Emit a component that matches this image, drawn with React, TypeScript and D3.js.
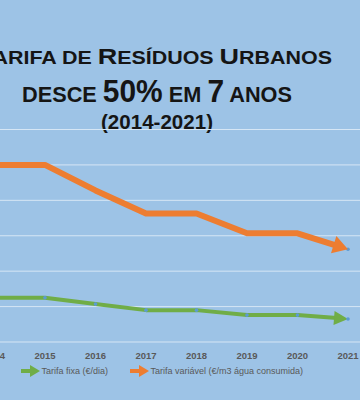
import React from 'react'
import * as d3 from 'd3'

const WIDTH = 360
const HEIGHT = 400

const years = ['2014', '2015', '2016', '2017', '2018', '2019', '2020', '2021']
const tarifaFixa = [0.125, 0.125, 0.107, 0.09, 0.09, 0.076, 0.076, 0.065]
const tarifaVariavel = [0.5, 0.5, 0.428, 0.363, 0.363, 0.307, 0.307, 0.262]
const gridTicks = [0, 0.1, 0.2, 0.3, 0.4, 0.5, 0.6]
const legendLabels = ['Tarifa fixa (€/dia)', 'Tarifa variável (€/m3 água consumida)']

const BG = '#9DC3E6'
const GREEN = '#70AD47'
const ORANGE = '#ED7D31'
const DOT = '#5B9BD5'
const TEXT_GREY = '#595959'

const xScale = d3.scalePoint<string>().domain(years).range([-5.5, 348])
const yScale = d3.scaleLinear().domain([0, 0.6]).range([342, 129.5])

// line with arrowhead at the last point
const arrowSeries = (values: number[], arrowLen: number, arrowHalf: number) => {
  const pts: [number, number][] = values.map((v, i) => [xScale(years[i])!, yScale(v)])
  const [x1, y1] = pts[pts.length - 2]
  const [x2, y2] = pts[pts.length - 1]
  const len = Math.hypot(x2 - x1, y2 - y1)
  const ux = (x2 - x1) / len
  const uy = (y2 - y1) / len
  const bx = x2 - ux * arrowLen
  const by = y2 - uy * arrowLen
  const linePts = pts.slice(0, -1).concat([[x2 - ux * arrowLen * 0.8, y2 - uy * arrowLen * 0.8]])
  const head = [
    [x2, y2],
    [bx - uy * arrowHalf, by + ux * arrowHalf],
    [bx + uy * arrowHalf, by - ux * arrowHalf],
  ]
  return { pts, path: d3.line()(linePts) || '', head: head.map((p) => p.join(',')).join(' ') }
}

const LegendArrow = ({ x, y, color }: { x: number; y: number; color: string }) => (
  <g>
    <line x1={x} y1={y} x2={x + 10} y2={y} stroke={color} strokeWidth={4} />
    <polygon points={`${x + 19},${y} ${x + 9},${y - 6} ${x + 9},${y + 6}`} fill={color} />
  </g>
)

export default function App() {
  const green = arrowSeries(tarifaFixa, 14, 7)
  const orange = arrowSeries(tarifaVariavel, 15, 9)

  const font = "'Liberation Sans', Arial, sans-serif"

  return (
    <svg
      width={WIDTH}
      height={HEIGHT}
      style={{ position: 'absolute', left: 0, top: 0, background: BG }}
    >
      <rect width={WIDTH} height={HEIGHT} fill={BG} />

      {/* title, small caps built by hand */}
      <g fontFamily={font} fontWeight="bold" fill="#151515">
        <text x={332} y={63.5} textAnchor="end" textLength={356} lengthAdjust="spacingAndGlyphs">
          <tspan fontSize={22.3}>T</tspan>
          <tspan fontSize={17.7}>ARIFA DE </tspan>
          <tspan fontSize={22.3}>R</tspan>
          <tspan fontSize={17.7}>ESÍDUOS </tspan>
          <tspan fontSize={22.3}>U</tspan>
          <tspan fontSize={17.7}>RBANOS</tspan>
        </text>
        <text x={22} y={102} textLength={270} lengthAdjust="spacingAndGlyphs">
          <tspan fontSize={22.5}>DESCE </tspan>
          <tspan fontSize={31}>50%</tspan>
          <tspan fontSize={22.5}> EM </tspan>
          <tspan fontSize={31}>7</tspan>
          <tspan fontSize={22.5}> ANOS</tspan>
        </text>
        <text x={101} y={129} fontSize={19.5} textLength={112} lengthAdjust="spacingAndGlyphs">
          (2014-2021)
        </text>
      </g>

      {/* grid */}
      {gridTicks.map((t) => (
        <line
          key={t}
          x1={0}
          x2={WIDTH}
          y1={yScale(t)}
          y2={yScale(t)}
          stroke="#D6E6F5"
          strokeWidth={1}
        />
      ))}

      {/* x axis labels */}
      {years.map((yr) => (
        <text
          key={yr}
          x={xScale(yr)}
          y={358.5}
          textAnchor="middle"
          fontFamily={font}
          fontWeight="bold"
          fontSize={9.5}
          fill={TEXT_GREY}
        >
          {yr}
        </text>
      ))}

      {/* series */}
      <path d={green.path} fill="none" stroke={GREEN} strokeWidth={4} strokeLinejoin="round" />
      <polygon points={green.head} fill={GREEN} />
      {green.pts.map(([x, y], i) => (
        <circle key={i} cx={x} cy={y} r={1.8} fill={DOT} />
      ))}
      {orange.pts.map(([x, y], i) => (
        <circle key={i} cx={x} cy={y} r={1.8} fill={DOT} />
      ))}
      <path d={orange.path} fill="none" stroke={ORANGE} strokeWidth={6} strokeLinejoin="round" />
      <polygon points={orange.head} fill={ORANGE} />

      {/* legend */}
      <g fontFamily={font} fontSize={9} fill={TEXT_GREY}>
        <LegendArrow x={21} y={371} color={GREEN} />
        <text x={41.5} y={374}>{legendLabels[0]}</text>
        <LegendArrow x={130} y={371} color={ORANGE} />
        <text x={150.5} y={374}>{legendLabels[1]}</text>
      </g>
    </svg>
  )
}
